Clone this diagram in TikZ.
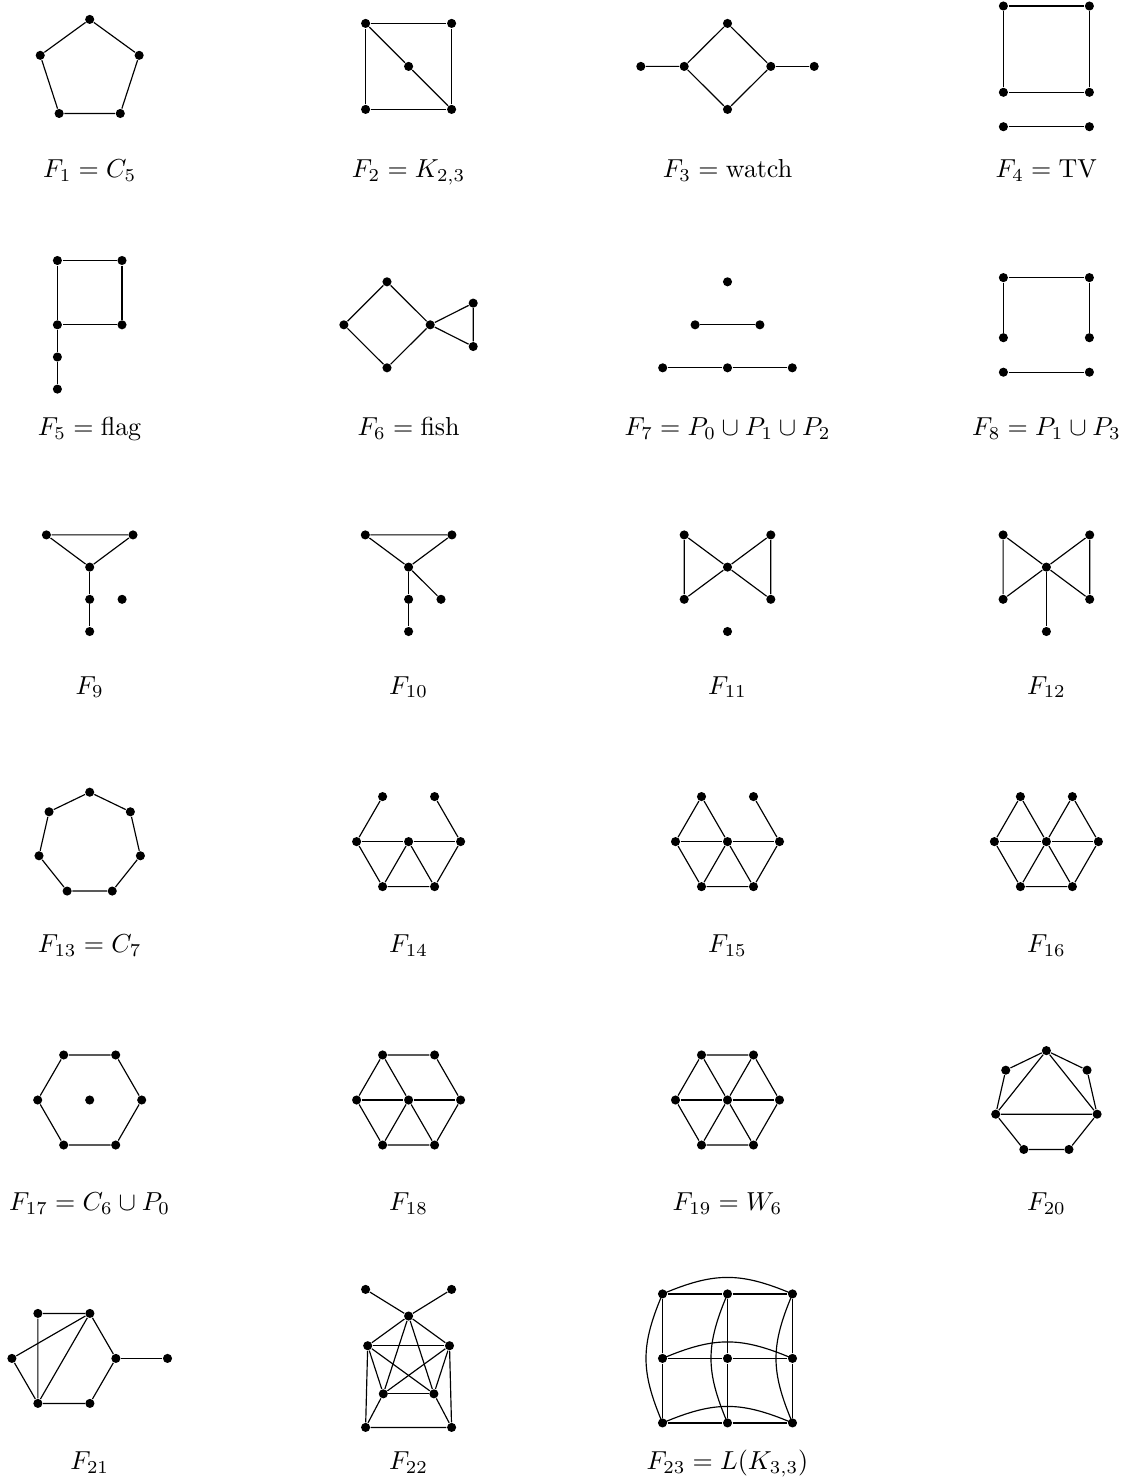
\documentclass[tikz,border=0pt]{standalone}
\usetikzlibrary{calc}
\begin{document}
\begin{tikzpicture}[x={(0.384615pt,0)},y={(0,-0.384615pt)},line width=0.45pt,
  v/.style={circle,fill=black,draw=none,inner sep=0pt,minimum size=3.5pt},
  lab/.style={inner sep=0pt,anchor=base}]
\useasboundingbox (0,0) rectangle (1125,1479);

% ---------- Row 1 ----------
\begin{scope}[shift={(89.7,66.4)}]
\node[v] (a1) at (0,-47) {};
\node[v] (a2) at (49.46,-11.07) {};
\node[v] (a3) at (30.57,47.07) {};
\node[v] (a4) at (-30.57,47.07) {};
\node[v] (a5) at (-49.46,-11.07) {};
\draw (a1)--(a2)--(a3)--(a4)--(a5)--(a1);
\node[lab] (t1) at (0,110.8) {$F_1 = C_5$};
\end{scope}

\begin{scope}[shift={(408.6,66.4)}]
\node[v] (b1) at (-43,-43) {};
\node[v] (b2) at (43,-43) {};
\node[v] (b3) at (0,0) {};
\node[v] (b4) at (-43,43) {};
\node[v] (b5) at (43,43) {};
\draw (b1)--(b2)--(b5)--(b4)--(b1);
\draw (b1)--(b3)--(b5);
\node[lab] (t2) at (0,110.8) {$F_2 = K_{2,3}$};
\end{scope}

\begin{scope}[shift={(727.5,66.4)}]
\node[v] (c1) at (-86.7,0) {};
\node[v] (c2) at (-43.3,0) {};
\node[v] (c3) at (0,-43) {};
\node[v] (c4) at (0,43) {};
\node[v] (c5) at (43.3,0) {};
\node[v] (c6) at (86.7,0) {};
\draw (c1)--(c2)--(c3)--(c5)--(c4)--(c2);
\draw (c5)--(c6);
\node[lab] (t3) at (0,110.8) {$F_3 = \mathrm{watch}$};
\end{scope}

\begin{scope}[shift={(1046.4,66.4)}]
\node[v] (d1) at (-43,-60.4) {};
\node[v] (d2) at (43,-60.4) {};
\node[v] (d3) at (-43,25.9) {};
\node[v] (d4) at (43,25.9) {};
\node[v] (d5) at (-43,60.3) {};
\node[v] (d6) at (43,60.3) {};
\draw (d1)--(d2)--(d4)--(d3)--(d1);
\draw (d5)--(d6);
\node[lab] (t4) at (0,110.8) {$F_4 = \mathrm{TV}$};
\end{scope}

% ---------- Row 2 ----------
\begin{scope}[shift={(89.7,324.8)}]
\node[v] (e1) at (-32.3,-64.3) {};
\node[v] (e2) at (32.3,-64.3) {};
\node[v] (e3) at (-32.3,0) {};
\node[v] (e4) at (32.3,0) {};
\node[v] (e5) at (-32.3,32.2) {};
\node[v] (e6) at (-32.3,64.3) {};
\draw (e1)--(e2)--(e4)--(e3)--(e1);
\draw (e3)--(e5)--(e6);
\node[lab] (t5) at (0,110.8) {$F_5 = \mathrm{flag}$};
\end{scope}

\begin{scope}[shift={(408.6,324.8)}]
\node[v] (f1) at (-64.7,0) {};
\node[v] (f2) at (-21.6,-43) {};
\node[v] (f3) at (-21.6,43) {};
\node[v] (f4) at (21.6,0) {};
\node[v] (f5) at (64.6,-21.7) {};
\node[v] (f6) at (64.6,21.7) {};
\draw (f1)--(f2)--(f4)--(f3)--(f1);
\draw (f4)--(f5)--(f6)--(f4);
\node[lab] (t6) at (0,110.8) {$F_6 = \mathrm{fish}$};
\end{scope}

\begin{scope}[shift={(727.5,324.8)}]
\node[v] (g1) at (0,-43) {};
\node[v] (g2) at (-32.4,0) {};
\node[v] (g3) at (32.4,0) {};
\node[v] (g4) at (-64.8,43) {};
\node[v] (g5) at (0,43) {};
\node[v] (g6) at (64.8,43) {};
\draw (g2)--(g3);
\draw (g4)--(g5)--(g6);
\node[lab] (t7) at (0,110.8) {$F_7 = P_0 \cup P_1 \cup P_2$};
\end{scope}

\begin{scope}[shift={(1046.4,324.8)}]
\node[v] (h1) at (-43,-47.2) {};
\node[v] (h2) at (43,-47.2) {};
\node[v] (h3) at (-43,12.9) {};
\node[v] (h4) at (43,12.9) {};
\node[v] (h5) at (-43,47.4) {};
\node[v] (h6) at (43,47.4) {};
\draw (h3)--(h1)--(h2)--(h4);
\draw (h5)--(h6);
\node[lab] (t8) at (0,110.8) {$F_8 = P_1 \cup P_3$};
\end{scope}

% ---------- Row 3 ----------
\begin{scope}[shift={(89.7,583.2)}]
\node[v] (i1) at (-43.3,-48.3) {};
\node[v] (i2) at (43.3,-48.3) {};
\node[v] (i3) at (0,-16.1) {};
\node[v] (i4) at (0,16.1) {};
\node[v] (i5) at (0,48.3) {};
\node[v] (i6) at (32.4,16.1) {};
\draw (i1)--(i2)--(i3)--(i1);
\draw (i3)--(i4)--(i5);
\node[lab] (t9) at (0,110.8) {$F_9$};
\end{scope}

\begin{scope}[shift={(408.6,583.2)}]
\node[v] (j1) at (-43.3,-48.3) {};
\node[v] (j2) at (43.3,-48.3) {};
\node[v] (j3) at (0,-16.1) {};
\node[v] (j4) at (0,16.1) {};
\node[v] (j5) at (0,48.3) {};
\node[v] (j6) at (32.4,16.1) {};
\draw (j1)--(j2)--(j3)--(j1);
\draw (j3)--(j4)--(j5);
\draw (j3)--(j6);
\node[lab] (t10) at (0,110.8) {$F_{10}$};
\end{scope}

\begin{scope}[shift={(727.5,583.2)}]
\node[v] (k1) at (-43.3,-48.3) {};
\node[v] (k2) at (43.3,-48.3) {};
\node[v] (k3) at (0,-16.1) {};
\node[v] (k4) at (-43.3,16.1) {};
\node[v] (k5) at (43.3,16.1) {};
\node[v] (k6) at (0,48.3) {};
\draw (k1)--(k4)--(k3)--(k1);
\draw (k2)--(k5)--(k3)--(k2);
\node[lab] (t11) at (0,110.8) {$F_{11}$};
\end{scope}

\begin{scope}[shift={(1046.4,583.2)}]
\node[v] (l1) at (-43.3,-48.3) {};
\node[v] (l2) at (43.3,-48.3) {};
\node[v] (l3) at (0,-16.1) {};
\node[v] (l4) at (-43.3,16.1) {};
\node[v] (l5) at (43.3,16.1) {};
\node[v] (l6) at (0,48.3) {};
\draw (l1)--(l4)--(l3)--(l1);
\draw (l2)--(l5)--(l3)--(l2);
\draw (l3)--(l6);
\node[lab] (t12) at (0,110.8) {$F_{12}$};
\end{scope}

% ---------- Row 4 ----------
\begin{scope}[shift={(89.7,841.6)}]
\node[v] (m1) at (0,-49.4) {};
\node[v] (m2) at (-40.65,-29.82) {};
\node[v] (m3) at (-50.70,14.17) {};
\node[v] (m4) at (-22.56,49.45) {};
\node[v] (m5) at (22.56,49.45) {};
\node[v] (m6) at (50.70,14.17) {};
\node[v] (m7) at (40.65,-29.82) {};
\draw (m1)--(m2)--(m3)--(m4)--(m5)--(m6)--(m7)--(m1);
\node[lab] (t13) at (0,110.8) {$F_{13} = C_7$};
\end{scope}

\begin{scope}[shift={(408.6,841.6)}]
\node[v] (o1) at (-26,-45.03) {};
\node[v] (o2) at (26,-45.03) {};
\node[v] (o3) at (-52,0) {};
\node[v] (o4) at (0,0) {};
\node[v] (o5) at (52,0) {};
\node[v] (o6) at (-26,45.03) {};
\node[v] (o7) at (26,45.03) {};
\draw (o1)--(o3); \draw (o2)--(o5);
\draw (o3)--(o4)--(o5);
\draw (o3)--(o6)--(o7)--(o5);
\draw (o6)--(o4)--(o7);
\node[lab] (t14) at (0,110.8) {$F_{14}$};
\end{scope}

\begin{scope}[shift={(727.5,841.6)}]
\node[v] (p1) at (-26,-45.03) {};
\node[v] (p2) at (26,-45.03) {};
\node[v] (p3) at (-52,0) {};
\node[v] (p4) at (0,0) {};
\node[v] (p5) at (52,0) {};
\node[v] (p6) at (-26,45.03) {};
\node[v] (p7) at (26,45.03) {};
\draw (p3)--(p1)--(p4); \draw (p2)--(p5);
\draw (p3)--(p4)--(p5);
\draw (p3)--(p6)--(p7)--(p5);
\draw (p6)--(p4)--(p7);
\node[lab] (t15) at (0,110.8) {$F_{15}$};
\end{scope}

\begin{scope}[shift={(1046.4,841.6)}]
\node[v] (q1) at (-26,-45.03) {};
\node[v] (q2) at (26,-45.03) {};
\node[v] (q3) at (-52,0) {};
\node[v] (q4) at (0,0) {};
\node[v] (q5) at (52,0) {};
\node[v] (q6) at (-26,45.03) {};
\node[v] (q7) at (26,45.03) {};
\draw (q3)--(q1)--(q4)--(q2)--(q5);
\draw (q3)--(q4)--(q5);
\draw (q3)--(q6)--(q7)--(q5);
\draw (q6)--(q4)--(q7);
\node[lab] (t16) at (0,110.8) {$F_{16}$};
\end{scope}

% ---------- Row 5 ----------
\begin{scope}[shift={(89.7,1100)}]
\node[v] (r1) at (-26,-45.03) {};
\node[v] (r2) at (26,-45.03) {};
\node[v] (r3) at (-52,0) {};
\node[v] (r4) at (0,0) {};
\node[v] (r5) at (52,0) {};
\node[v] (r6) at (-26,45.03) {};
\node[v] (r7) at (26,45.03) {};
\draw (r1)--(r2)--(r5)--(r7)--(r6)--(r3)--(r1);
\node[lab] (t17) at (0,110.8) {$F_{17} = C_6 \cup P_0$};
\end{scope}

\begin{scope}[shift={(408.6,1100)}]
\node[v] (s1) at (-26,-45.03) {};
\node[v] (s2) at (26,-45.03) {};
\node[v] (s3) at (-52,0) {};
\node[v] (s4) at (0,0) {};
\node[v] (s5) at (52,0) {};
\node[v] (s6) at (-26,45.03) {};
\node[v] (s7) at (26,45.03) {};
\draw (s1)--(s2)--(s5)--(s7)--(s6)--(s3)--(s1);
\draw (s1)--(s4); \draw (s3)--(s4)--(s5);
\draw (s6)--(s4)--(s7);
\node[lab] (t18) at (0,110.8) {$F_{18}$};
\end{scope}

\begin{scope}[shift={(727.5,1100)}]
\node[v] (u1) at (-26,-45.03) {};
\node[v] (u2) at (26,-45.03) {};
\node[v] (u3) at (-52,0) {};
\node[v] (u4) at (0,0) {};
\node[v] (u5) at (52,0) {};
\node[v] (u6) at (-26,45.03) {};
\node[v] (u7) at (26,45.03) {};
\draw (u1)--(u2)--(u5)--(u7)--(u6)--(u3)--(u1);
\draw (u1)--(u4)--(u2); \draw (u3)--(u4)--(u5);
\draw (u6)--(u4)--(u7);
\node[lab] (t19) at (0,110.8) {$F_{19} = W_6$};
\end{scope}

\begin{scope}[shift={(1046.4,1100)}]
\node[v] (w1) at (0,-49.4) {};
\node[v] (w2) at (-40.65,-29.82) {};
\node[v] (w3) at (-50.70,14.17) {};
\node[v] (w4) at (-22.56,49.45) {};
\node[v] (w5) at (22.56,49.45) {};
\node[v] (w6) at (50.70,14.17) {};
\node[v] (w7) at (40.65,-29.82) {};
\draw (w1)--(w2)--(w3)--(w4)--(w5)--(w6)--(w7)--(w1);
\draw (w3)--(w1)--(w6)--(w3);
\node[lab] (t20) at (0,110.8) {$F_{20}$};
\end{scope}

% ---------- Row 6 ----------
\begin{scope}[shift={(89.7,1358.4)}]
\node[v] (x1) at (-51.8,-45) {};
\node[v] (x2) at (0.2,-45) {};
\node[v] (x3) at (-77.8,0) {};
\node[v] (x4) at (26.2,0) {};
\node[v] (x5) at (77.8,0) {};
\node[v] (x6) at (-51.8,45) {};
\node[v] (x7) at (0.2,45) {};
\draw (x1)--(x2)--(x4)--(x7)--(x6)--(x3)--(x2);
\draw (x1)--(x6)--(x2);
\draw (x4)--(x5);
\node[lab] (t21) at (0,110.8) {$F_{21}$};
\end{scope}

\begin{scope}[shift={(408.6,1358.4)}]
\node[v] (y1) at (-43,-69) {};
\node[v] (y2) at (43,-69) {};
\node[v] (y3) at (0,-42.4) {};
\node[v] (y4) at (-40.9,-12.7) {};
\node[v] (y5) at (40.9,-12.7) {};
\node[v] (y6) at (-25.3,35.4) {};
\node[v] (y7) at (25.3,35.4) {};
\node[v] (y8) at (-43,69) {};
\node[v] (y9) at (43,69) {};
\draw (y1)--(y3)--(y2);
\draw (y3)--(y4); \draw (y3)--(y5); \draw (y3)--(y6); \draw (y3)--(y7);
\draw (y4)--(y5); \draw (y4)--(y6); \draw (y4)--(y7);
\draw (y5)--(y6); \draw (y5)--(y7); \draw (y6)--(y7);
\draw (y4)--(y8)--(y9)--(y5);
\draw (y6)--(y8); \draw (y7)--(y9);
\node[lab] (t22) at (0,110.8) {$F_{22}$};
\end{scope}

\begin{scope}[shift={(727.5,1358.4)}]
\node[v] (z11) at (-65,-64.5) {};
\node[v] (z12) at (0,-64.5) {};
\node[v] (z13) at (65,-64.5) {};
\node[v] (z21) at (-65,0) {};
\node[v] (z22) at (0,0) {};
\node[v] (z23) at (65,0) {};
\node[v] (z31) at (-65,64.5) {};
\node[v] (z32) at (0,64.5) {};
\node[v] (z33) at (65,64.5) {};
\draw (z11)--(z12)--(z13); \draw (z21)--(z22)--(z23); \draw (z31)--(z32)--(z33);
\draw (z11)--(z21)--(z31); \draw (z12)--(z22)--(z32); \draw (z13)--(z23)--(z33);
\draw (z11.center) .. controls ($(z11)+(52,-22)$) and ($(z13)+(-52,-22)$) .. (z13.center);
\draw (z21.center) .. controls ($(z21)+(52,-22)$) and ($(z23)+(-52,-22)$) .. (z23.center);
\draw (z31.center) .. controls ($(z31)+(52,-22)$) and ($(z33)+(-52,-22)$) .. (z33.center);
\draw (z11.center) .. controls ($(z11)+(-22,52)$) and ($(z31)+(-22,-52)$) .. (z31.center);
\draw (z12.center) .. controls ($(z12)+(-22,52)$) and ($(z32)+(-22,-52)$) .. (z32.center);
\draw (z13.center) .. controls ($(z13)+(-22,52)$) and ($(z33)+(-22,-52)$) .. (z33.center);
\node[lab] (t23) at (0,110.8) {$F_{23} = L(K_{3,3})$};
\end{scope}
\end{tikzpicture}
\end{document}
